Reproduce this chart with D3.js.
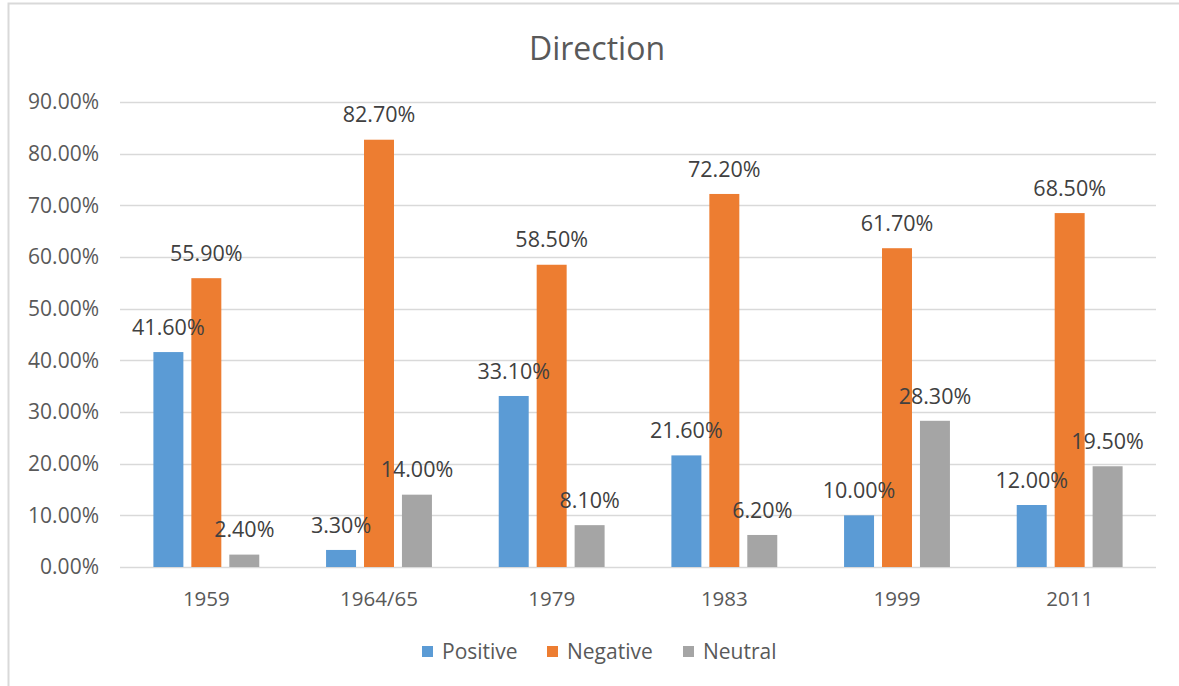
<!DOCTYPE html>
<html>
<head>
<meta charset="utf-8">
<script src="https://cdn.jsdelivr.net/npm/d3@7/dist/d3.min.js"></script>
<style>
  html, body { margin: 0; padding: 0; background: #fff; }
  svg { display: block; font-family: "Open Sans", "Liberation Sans", sans-serif; }
</style>
</head>
<body>
<svg id="chart" width="1179" height="686"></svg>
<script>
const categories = ["1959", "1964/65", "1979", "1983", "1999", "2011"];
const seriesNames = ["Positive", "Negative", "Neutral"];
const positive = [41.6, 3.3, 33.1, 21.6, 10.0, 12.0];
const negative = [55.9, 82.7, 58.5, 72.2, 61.7, 68.5];
const neutral = [2.4, 14.0, 8.1, 6.2, 28.3, 19.5];
const yTicks = [0, 10, 20, 30, 40, 50, 60, 70, 80, 90];
const colors = ["#5B9BD5", "#ED7D31", "#A5A5A5"];

const seriesValues = [positive, negative, neutral];
const fontStack = "\"Open Sans\", \"Liberation Sans\", sans-serif";
const svg = d3.select("#chart");

// chart frame
svg.append("rect")
  .attr("x", 8.5).attr("y", 3.5)
  .attr("width", 1200).attr("height", 700)
  .attr("fill", "#fff").attr("stroke", "#D9D9D9").attr("stroke-width", 2);

const plot = { left: 120, right: 1156, top: 102, bottom: 567 };

const x0 = d3.scaleBand().domain(categories).range([plot.left, plot.right]).padding(0);
const x1 = d3.scaleBand().domain(seriesNames).range([0, x0.bandwidth()])
  .paddingInner(0.21).paddingOuter(0.88);
const y = d3.scaleLinear().domain([0, 90]).range([plot.bottom, plot.top]);

// title
svg.append("text")
  .attr("x", 597).attr("y", 60)
  .attr("text-anchor", "middle")
  .attr("font-size", 32).attr("fill", "#595959")
  .text("Direction");

// gridlines
svg.append("g").selectAll("line").data(yTicks).join("line")
  .attr("x1", plot.left).attr("x2", plot.right)
  .attr("y1", d => Math.round(y(d)) + 0.5).attr("y2", d => Math.round(y(d)) + 0.5)
  .attr("stroke", "#D9D9D9").attr("stroke-width", 1.3);

// y axis labels
const yAxis = d3.axisLeft(y).tickValues(yTicks).tickSize(0).tickPadding(0)
  .tickFormat(d => d.toFixed(2) + "%");
const gy = svg.append("g").attr("transform", `translate(${plot.left - 21},0)`).call(yAxis);
gy.select(".domain").remove();
gy.selectAll("text").attr("font-size", 21).attr("fill", "#595959")
  .attr("font-family", fontStack);

// x axis labels
const xAxis = d3.axisBottom(x0).tickSize(0).tickPadding(0);
const gx = svg.append("g").attr("transform", `translate(0,${plot.bottom + 24})`).call(xAxis);
gx.select(".domain").remove();
gx.selectAll("text").attr("font-size", 20.5).attr("fill", "#595959")
  .attr("font-family", fontStack);

// bars
const rows = categories.map((c, i) => ({
  cat: c,
  vals: seriesNames.map((s, j) => ({ series: s, idx: j, value: seriesValues[j][i] }))
}));

const groups = svg.append("g").selectAll("g").data(rows).join("g")
  .attr("transform", d => `translate(${x0(d.cat)},0)`);

groups.selectAll("rect").data(d => d.vals).join("rect")
  .attr("x", d => x1(d.series))
  .attr("width", x1.bandwidth())
  .attr("y", d => y(d.value))
  .attr("height", d => y(0) - y(d.value))
  .attr("fill", d => colors[d.idx]);

// value labels above each bar
groups.selectAll("text").data(d => d.vals).join("text")
  .attr("x", d => x1(d.series) + x1.bandwidth() / 2)
  .attr("y", d => y(d.value) - 25)
  .attr("dy", "0.36em")
  .attr("text-anchor", "middle")
  .attr("font-size", 21.5).attr("fill", "#404040")
  .text(d => d.value.toFixed(2) + "%");

// legend
const legendX = [422, 547, 683];
const legend = svg.append("g").selectAll("g").data(seriesNames).join("g")
  .attr("transform", (d, i) => `translate(${legendX[i]},646)`);
legend.append("rect").attr("width", 11).attr("height", 11)
  .attr("fill", (d, i) => colors[i]);
legend.append("text").attr("x", 20).attr("y", 5.5).attr("dy", "0.36em")
  .attr("font-size", 21).attr("fill", "#595959")
  .text(d => d);
</script>
</body>
</html>
